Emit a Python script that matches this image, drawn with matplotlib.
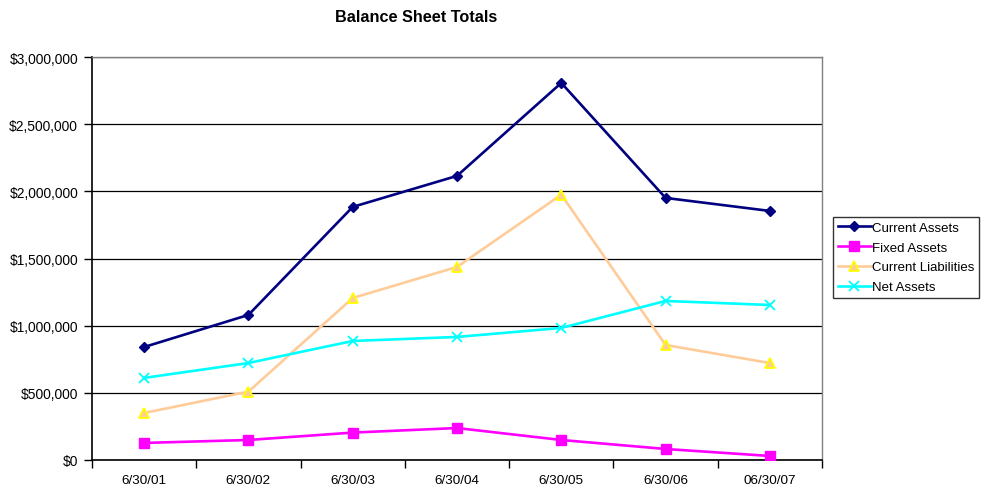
import matplotlib
matplotlib.use("Agg")
import matplotlib.pyplot as plt
from matplotlib.ticker import FuncFormatter, FixedLocator, NullFormatter

plt.rcParams['font.family'] = ['Liberation Sans', 'DejaVu Sans']

categories = ["6/30/01", "6/30/02", "6/30/03", "6/30/04", "6/30/05", "6/30/06", "06/30/07"]
current_assets = [841000, 1080000, 1884000, 2115000, 2807000, 1951000, 1854000]
fixed_assets = [127000, 149000, 204000, 238000, 149000, 82000, 30000]
current_liabilities = [350000, 509000, 1206000, 1437000, 1975000, 856000, 722000]
net_assets = [611000, 722000, 886000, 916000, 983000, 1184000, 1154000]

fig = plt.figure(figsize=(9.83, 4.89), dpi=100)
ax = fig.add_axes([92/983, 1-461/489, (822-92)/983, (461-58)/489])

x = list(range(len(categories)))
ax.plot(x, current_assets, color='#000080', lw=1.9, marker='D', ms=5.5,
        mfc='#000080', mec='#000080', label='Current Assets', zorder=5)
ax.plot(x, fixed_assets, color='#FF00FF', lw=1.9, marker='s', ms=7,
        mfc='#FF00FF', mec='#FF00FF', label='Fixed Assets', zorder=5)
ax.plot(x, current_liabilities, color='#FFCC99', lw=1.9, marker='^', ms=7,
        mfc='#FFCC99', mec='#FFFF00', mew=1.3, label='Current Liabilities', zorder=5)
ax.plot(x, net_assets, color='#00FFFF', lw=1.9, marker='x', ms=7, mew=1.3,
        mec='#00FFFF', label='Net Assets', zorder=5)

ax.set_xlim(-0.5, len(categories) - 0.5)
ax.set_ylim(0, 3000000)
ax.set_yticks([0, 500000, 1000000, 1500000, 2000000, 2500000, 3000000])
ax.yaxis.set_major_formatter(FuncFormatter(lambda v, p: "${:,.0f}".format(v)))
ax.grid(axis='y', color='black', lw=0.9)
ax.set_axisbelow(True)

ax.xaxis.set_major_locator(FixedLocator([i - 0.5 for i in range(len(categories) + 1)]))
ax.xaxis.set_major_formatter(NullFormatter())
ax.xaxis.set_minor_locator(FixedLocator(x))
ax.set_xticklabels(categories, minor=True)
ax.tick_params(axis='x', which='major', length=6, width=1, direction='out')
ax.tick_params(axis='x', which='minor', length=0, pad=10, labelsize=9.7)
ax.tick_params(axis='y', length=6, width=1, direction='out', labelsize=9.9, pad=4)

for s in ['left', 'bottom']:
    ax.spines[s].set_color('black')
    ax.spines[s].set_linewidth(1.2)
for s in ['top', 'right']:
    ax.spines[s].set_color('#808080')
    ax.spines[s].set_linewidth(1)

fig.text(416/983, 1-17/489, "Balance Sheet Totals", ha='center', va='center',
         fontsize=11.7, fontweight='bold')

leg = fig.legend(loc='upper left', bbox_to_anchor=(833/983, 1-218/489),
                 fontsize=9.5, frameon=True, fancybox=False, edgecolor='black',
                 handlelength=2.5, handletextpad=0.1, borderpad=0.35, labelspacing=0.57,
                 borderaxespad=0)
leg.get_frame().set_linewidth(1)

fig.savefig("out.png", dpi=100)
